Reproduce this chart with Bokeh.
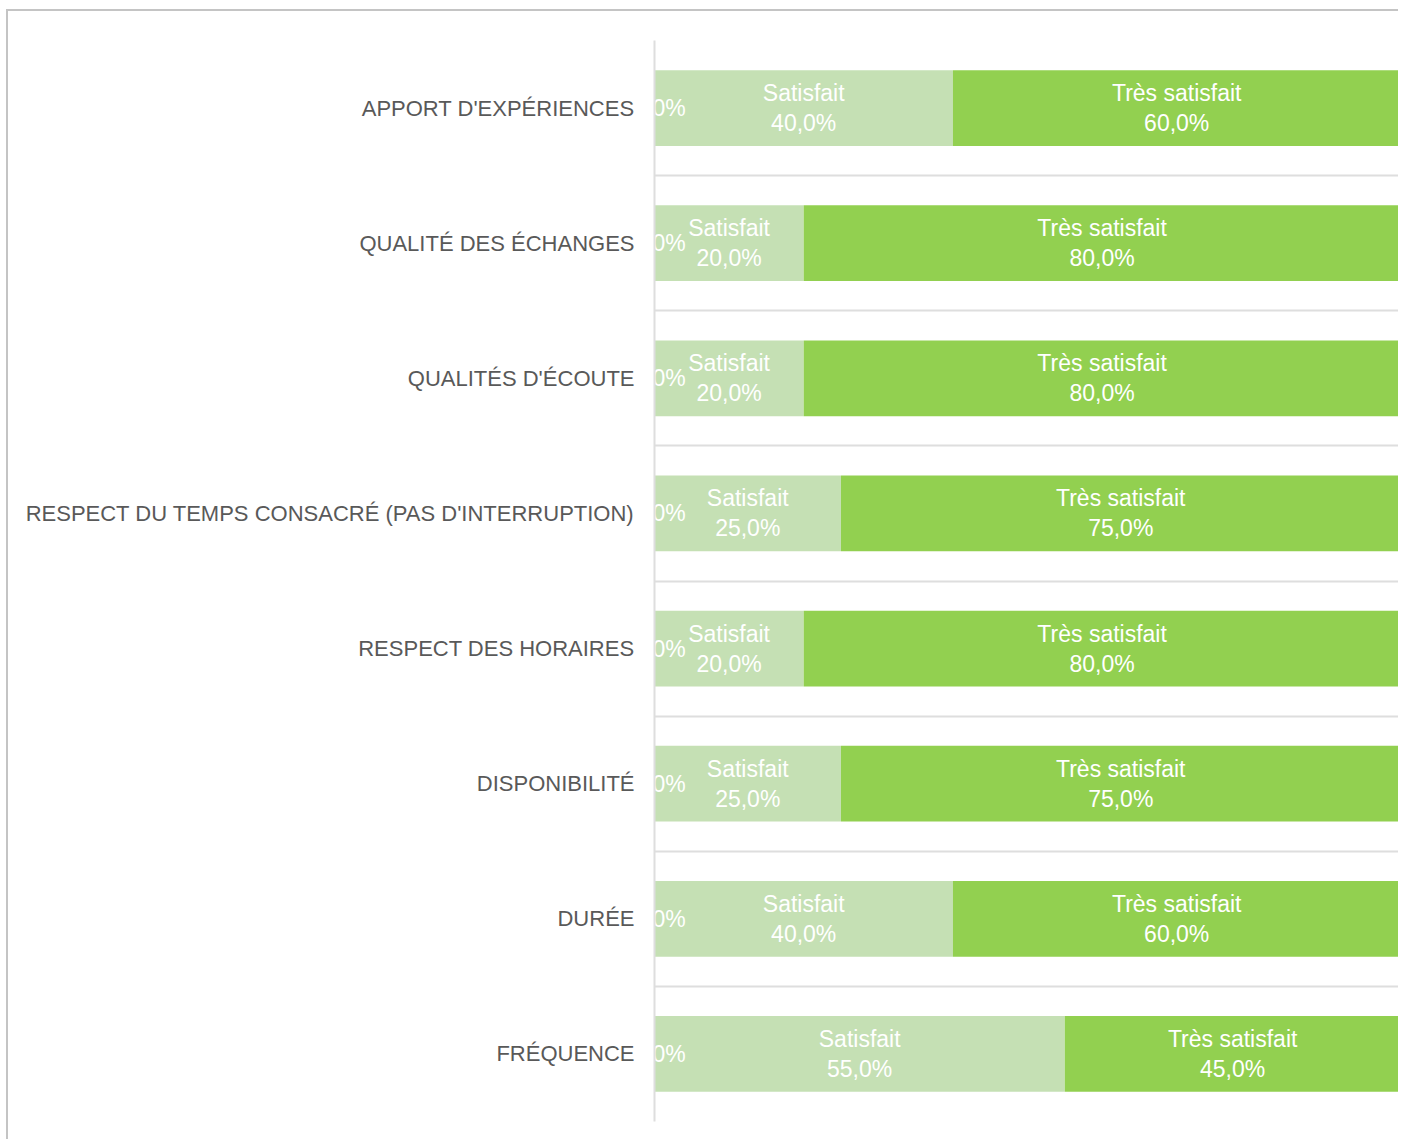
from bokeh.plotting import figure
from bokeh.models import ColumnDataSource, FixedTicker, Range1d
from bokeh.core.properties import value
from bokeh.embed import file_html
from bokeh.resources import INLINE

categories = [
    "APPORT D'EXPÉRIENCES",
    "QUALITÉ DES ÉCHANGES",
    "QUALITÉS D'ÉCOUTE",
    "RESPECT DU TEMPS CONSACRÉ (PAS D'INTERRUPTION)",
    "RESPECT DES HORAIRES",
    "DISPONIBILITÉ",
    "DURÉE",
    "FRÉQUENCE",
]
series_names = ["Insatisfait", "Satisfait", "Très satisfait"]
insatisfait = [0, 0, 0, 0, 0, 0, 0, 0]
satisfait = [40, 20, 20, 25, 20, 25, 40, 55]
tres_satisfait = [60, 80, 80, 75, 80, 75, 60, 45]
colors = ["#c5e0b4", "#c5e0b4", "#92d050"]

FONT = "Liberation Sans"
n = len(categories)
ypos = [n - 1 - i for i in range(n)]

p = figure(width=1392, height=1130, output_backend="svg", toolbar_location=None,
           x_range=Range1d(0, 100), y_range=Range1d(-0.5, n - 0.5),
           min_border_left=646, min_border_right=0, min_border_top=29, min_border_bottom=20)
p.outline_line_color = None
p.styles = {"border-top": "2px solid #c4c4c4", "border-left": "2px solid #c4c4c4",
            "margin-left": "6px", "margin-top": "9px"}

vals = [insatisfait, satisfait, tres_satisfait]
left = [0.0] * n
sources = []
for name, v, c in zip(series_names, vals, colors):
    right = [l + x for l, x in zip(left, v)]
    src = ColumnDataSource(dict(
        y=ypos, left=left, right=right,
        mid=[(l + r) / 2 for l, r in zip(left, right)],
        label=[(f"{x:.1f}%".replace(".", ",") if x == 0 else f"{name}\n{x:.1f}%".replace(".", ",")) for x in v],
    ))
    sources.append((src, v))
    if any(x > 0 for x in v):
        p.hbar(y="y", left="left", right="right", height=0.56, fill_color=c, line_color=None, source=src)
    left = right

for src, v in sources:
    if any(x > 0 for x in v):
        p.text(x="mid", y="y", text="label", source=src, text_align="center", text_baseline="middle",
               text_color="white", text_font=value(FONT), text_font_size="23px", text_line_height=1.15)
    else:
        p.text(x="mid", y="y", text="label", source=src, text_align="center", text_baseline="middle",
               x_offset=5, text_color="white", text_font=value(FONT), text_font_size="23px")

p.xaxis.visible = False
p.xgrid.visible = False
p.ygrid.ticker = FixedTicker(ticks=[k - 0.5 for k in range(n + 1)])
p.ygrid.grid_line_color = "#dedede"
p.ygrid.grid_line_width = 2

ax = p.yaxis[0]
ax.ticker = FixedTicker(ticks=ypos)
ax.major_label_overrides = {y: c for y, c in zip(ypos, categories)}
ax.major_tick_line_color = None
ax.minor_tick_line_color = None
ax.major_tick_out = 0
ax.major_tick_in = 0
ax.axis_line_color = "#dedede"
ax.axis_line_width = 2
ax.major_label_standoff = 20
ax.major_label_text_font = FONT
ax.major_label_text_font_size = "22px"
ax.major_label_text_color = "#595959"

open("out.html", "w").write(file_html(p, INLINE))
